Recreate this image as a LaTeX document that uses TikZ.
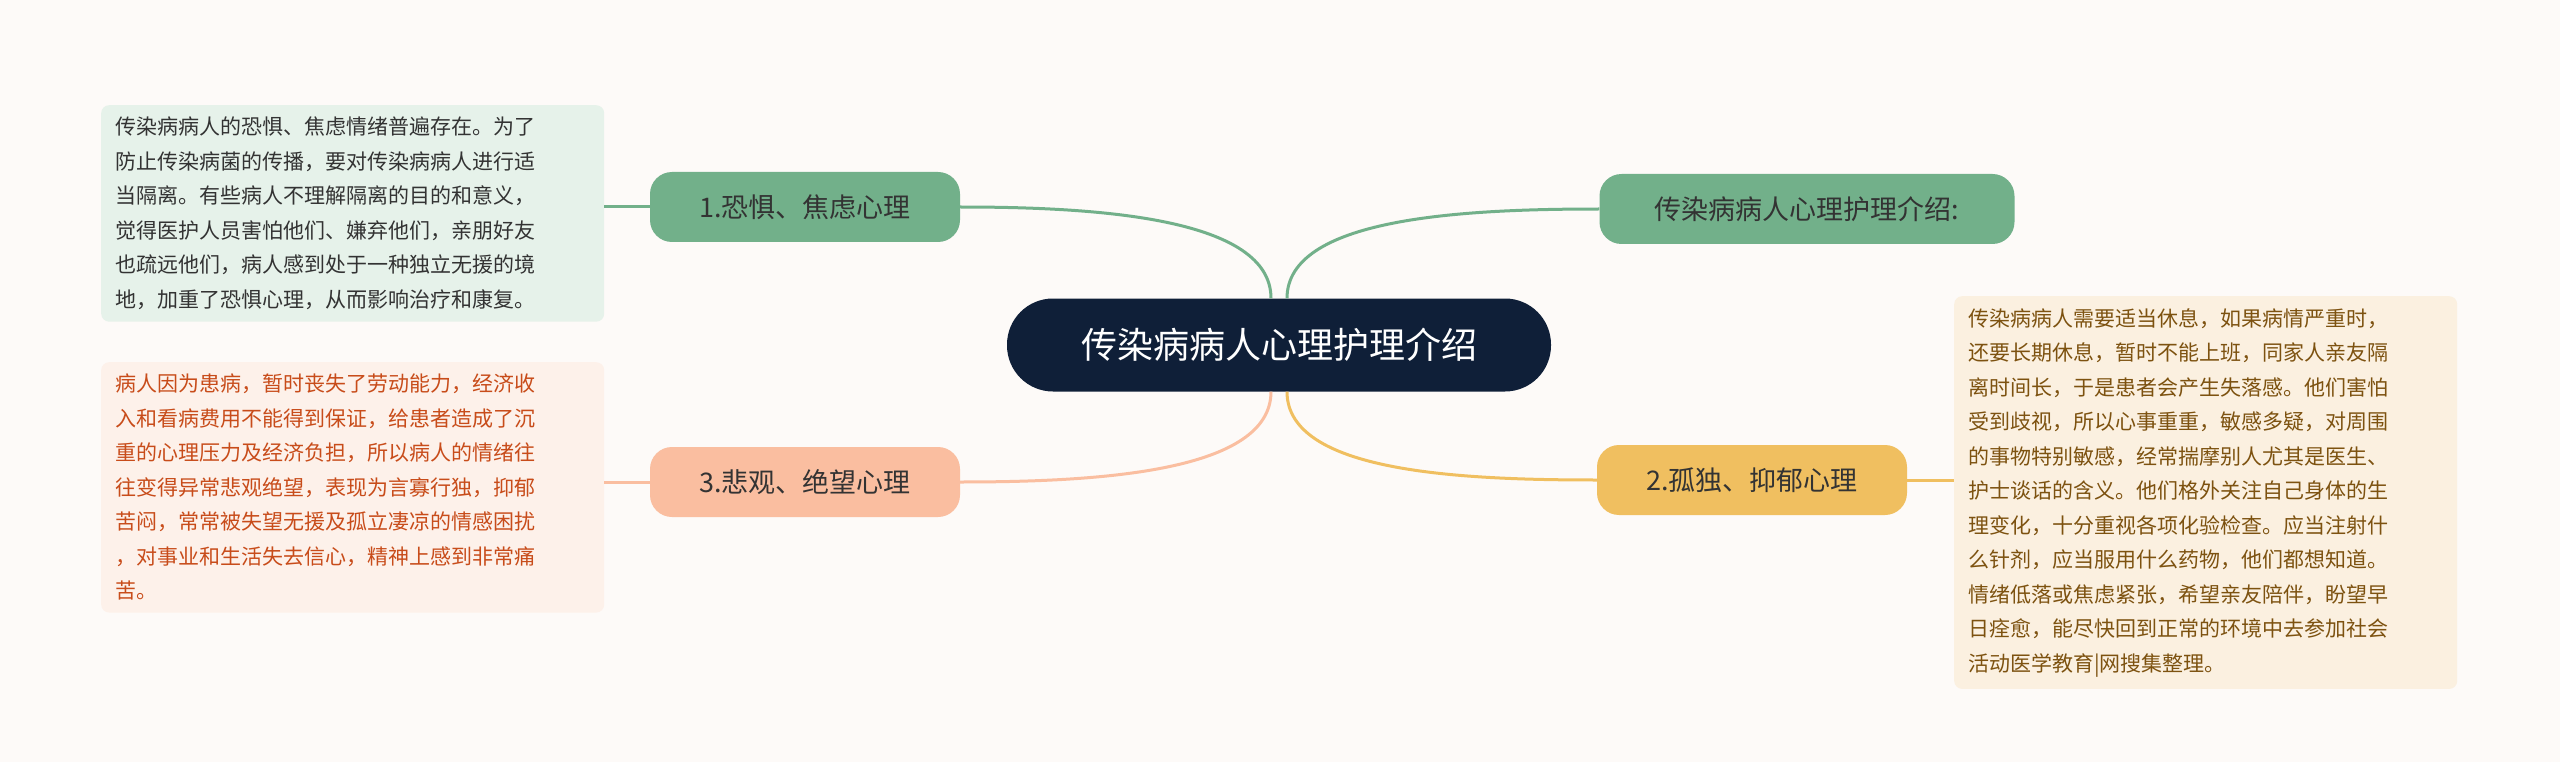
\documentclass[tikz,border=0pt]{standalone}
\usepackage{fontspec}
\setmainfont{Noto Sans CJK SC}
\begin{document}
\begin{tikzpicture}[x=1pt,y=-1pt,
  branch/.style={rounded corners=22pt,minimum width=310pt,minimum height=70pt,font=\fontsize{27}{32}\selectfont,text=black!80,inner sep=0pt},
  textbox/.style={rounded corners=8pt,minimum width=503pt,align=left,anchor=north west,font=\fontsize{21}{34.5}\selectfont,inner xsep=14pt,inner ysep=12pt,text width=475pt},
  link/.style={line width=3pt}]
\fill[fill={rgb,255:red,253;green,250;blue,248}] (0,0) rectangle (2560,762);
\useasboundingbox (0,0) rectangle (2560,762);
\definecolor{gr}{RGB}{114,176,138}
\definecolor{og}{RGB}{240,191,96}
\definecolor{pk}{RGB}{250,190,160}
\node[fill={rgb,255:red,15;green,31;blue,56},text=white,rounded corners=46pt,minimum width=544pt,minimum height=93pt,font=\fontsize{36}{40}\selectfont] (c) at (1279,345) {传染病病人心理护理介绍};
\node[branch,fill=gr] (n1) at (805,207) {1.恐惧、焦虑心理};
\node[branch,fill=gr,minimum width=415pt] (n0) at (1807,209) {传染病病人心理护理介绍:};
\node[branch,fill=og] (n2) at (1752,480) {2.孤独、抑郁心理};
\node[branch,fill=pk] (n3) at (805,482) {3.悲观、绝望心理};
\node[textbox,fill={rgb,255:red,230;green,242;blue,234},text=black!80] (t1) at (101,105) {传染病病人的恐惧、焦虑情绪普遍存在。为了\\防止传染病菌的传播，要对传染病病人进行适\\当隔离。有些病人不理解隔离的目的和意义，\\觉得医护人员害怕他们、嫌弃他们，亲朋好友\\也疏远他们，病人感到处于一种独立无援的境\\地，加重了恐惧心理，从而影响治疗和康复。};
\node[textbox,fill={rgb,255:red,251;green,240;blue,224},text={rgb,255:red,125;green,82;blue,16}] (t2) at (1954,296) {传染病病人需要适当休息，如果病情严重时，\\还要长期休息，暂时不能上班，同家人亲友隔\\离时间长，于是患者会产生失落感。他们害怕\\受到歧视，所以心事重重，敏感多疑，对周围\\的事物特别敏感，经常揣摩别人尤其是医生、\\护士谈话的含义。他们格外关注自己身体的生\\理变化，十分重视各项化验检查。应当注射什\\么针剂，应当服用什么药物，他们都想知道。\\情绪低落或焦虑紧张，希望亲友陪伴，盼望早\\日痊愈，能尽快回到正常的环境中去参加社会\\活动医学教育|网搜集整理。};
\node[textbox,fill={rgb,255:red,253;green,241;blue,234},text={rgb,255:red,200;green,76;blue,26}] (t3) at (101,362) {病人因为患病，暂时丧失了劳动能力，经济收\\入和看病费用不能得到保证，给患者造成了沉\\重的心理压力及经济负担，所以病人的情绪往\\往变得异常悲观绝望，表现为言寡行独，抑郁\\苦闷，常常被失望无援及孤立凄凉的情感困扰\\，对事业和生活失去信心，精神上感到非常痛\\苦。};
\draw[link,gr] ([xshift=-8pt]c.north) .. controls +(0,-80) and +(140,0) .. (n1.east);
\draw[link,gr] ([xshift=8pt]c.north) .. controls +(0,-80) and +(-140,0) .. (n0.west);
\draw[link,og] ([xshift=8pt]c.south) .. controls +(0,80) and +(-140,0) .. (n2.west);
\draw[link,pk] ([xshift=-8pt]c.south) .. controls +(0,80) and +(140,0) .. (n3.east);
\draw[link,gr] (n1.west) -- (t1.east |- n1.west);
\draw[link,og] (n2.east) -- (t2.west |- n2.east);
\draw[link,pk] (n3.west) -- (t3.east |- n3.west);
\end{tikzpicture}
\end{document}
